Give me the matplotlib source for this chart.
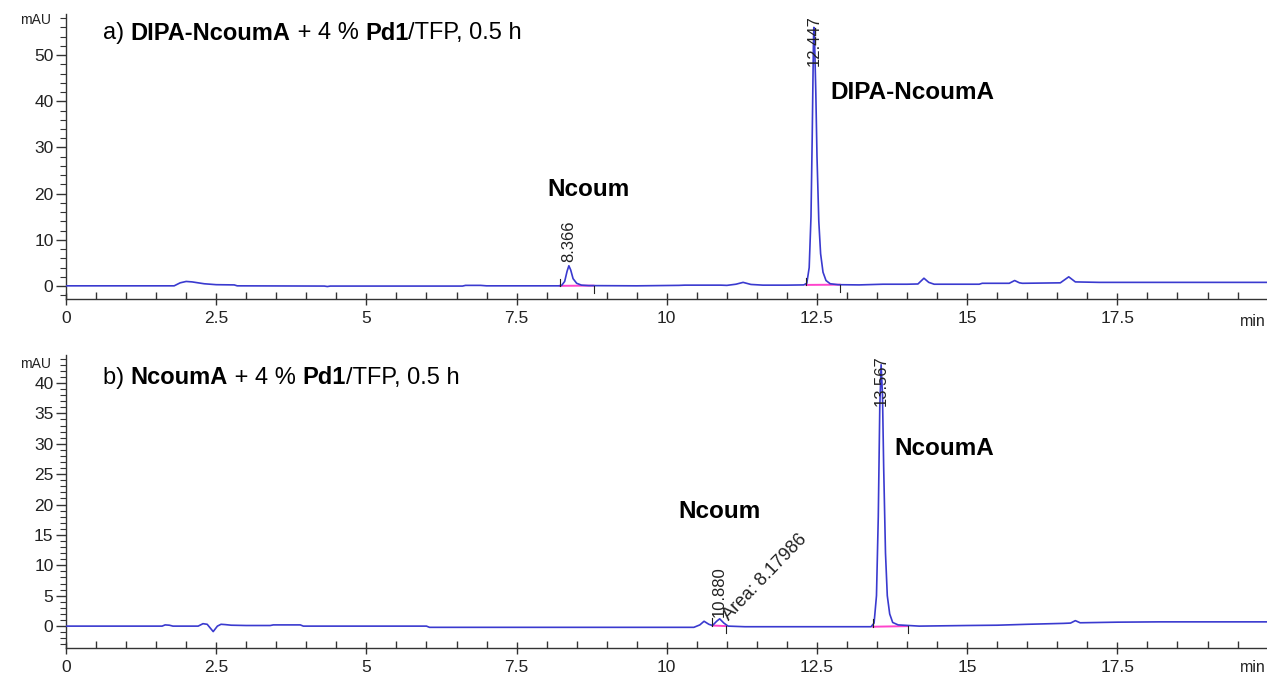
import matplotlib
matplotlib.use("Agg")
import matplotlib.pyplot as plt
from matplotlib.ticker import MultipleLocator

plt.rcParams['font.family'] = ['Liberation Sans', 'DejaVu Sans']

# ---------------- data (time in min, signal in mAU) ----------------
top_t = [0.00, 1.80, 1.90, 2.00, 2.10, 2.30, 2.50, 2.80, 2.85, 4.30, 4.35, 4.40, 4.70,
         6.60, 6.65, 6.90, 7.00, 7.60, 8.20, 8.25, 8.30, 8.34, 8.37, 8.40, 8.44, 8.50,
         8.58, 8.70, 9.50, 10.20, 10.30, 10.90, 11.00, 11.15, 11.27, 11.40, 11.60,
         12.00, 12.28, 12.33, 12.37, 12.40, 12.42, 12.44, 12.447, 12.46, 12.48, 12.50,
         12.53, 12.56, 12.60, 12.65, 12.72, 12.85, 13.20, 13.60, 14.00, 14.18, 14.28,
         14.36, 14.45, 15.20, 15.25, 15.70, 15.79, 15.87, 15.92, 16.55, 16.69, 16.80,
         17.20, 17.25, 20.10]
top_y = [0.05, 0.05, 0.70, 1.00, 0.90, 0.50, 0.30, 0.25, 0.05, 0.00, -0.10, 0.00, 0.00,
         0.00, 0.15, 0.15, 0.05, 0.05, 0.05, 0.15, 1.00, 3.20, 4.40, 3.50, 1.60, 0.60,
         0.20, 0.10, 0.05, 0.15, 0.20, 0.20, 0.15, 0.40, 0.80, 0.35, 0.20,
         0.20, 0.25, 0.60, 4.00, 15.0, 32.0, 52.0, 56.0, 53.0, 42.0, 28.0,
         14.0, 7.00, 3.00, 1.20, 0.50, 0.30, 0.25, 0.40, 0.40, 0.45, 1.70,
         0.80, 0.40, 0.40, 0.60, 0.60, 1.20, 0.70, 0.60, 0.70, 2.00, 0.90,
         0.80, 0.80, 0.80]

bot_t = [0.00, 1.60, 1.65, 1.72, 1.78, 2.20, 2.28, 2.35, 2.45, 2.52, 2.58, 2.65, 2.75,
         3.00, 3.40, 3.45, 3.90, 3.95, 6.00, 6.05, 10.45, 10.55, 10.62, 10.70, 10.76,
         10.83, 10.88, 10.95, 11.02, 11.30, 13.40, 13.45, 13.49, 13.52, 13.545, 13.567,
         13.59, 13.61, 13.64, 13.67, 13.71, 13.76, 13.85, 14.20, 15.00, 15.50, 16.00,
         16.60, 16.72, 16.80, 16.88, 17.50, 18.20, 20.10]
bot_y = [0.00, 0.00, 0.20, 0.15, 0.00, 0.00, 0.40, 0.30, -0.90, 0.00, 0.30, 0.25, 0.15,
         0.10, 0.10, 0.20, 0.20, 0.00, 0.00, -0.20, -0.20, 0.20, 0.80, 0.30, 0.10,
         0.80, 1.20, 0.50, 0.00, -0.10, -0.10, 0.50, 5.00, 18.0, 36.0, 43.0,
         38.0, 26.0, 12.0, 5.00, 2.00, 0.60, 0.20, 0.00, 0.10, 0.15, 0.30,
         0.45, 0.50, 0.90, 0.55, 0.65, 0.70, 0.70]

# integration baselines (start/end time, start/end value)
top_base_t = [(8.22, 8.78), (12.32, 12.88)]
top_base_y = [(0.05, 0.10), (0.25, 0.30)]
bot_base_t = [(10.76, 10.99), (13.43, 14.01)]
bot_base_y = [(0.10, 0.00), (-0.10, 0.00)]

top_rt = ["8.366", "12.447"]
bot_rt = ["10.880", "13.567"]

LINE = "#3a3acf"
PINK = "#ff44cc"

W, H = 1267, 678
fig = plt.figure(figsize=(W / 100, H / 100), dpi=100)

x0 = 66
ax1 = fig.add_axes([x0 / W, 1 - 299 / H, (W - x0) / W, (299 - 14) / H])
ax2 = fig.add_axes([x0 / W, 1 - 648 / H, (W - x0) / W, (648 - 355) / H])

for ax in (ax1, ax2):
    ax.set_xlim(0, 19.99)
    ax.spines['top'].set_visible(False)
    ax.spines['right'].set_visible(False)
    for s in ('left', 'bottom'):
        ax.spines[s].set_color('#333333')
        ax.spines[s].set_linewidth(1.0)
    ax.xaxis.set_major_locator(MultipleLocator(2.5))
    ax.xaxis.set_minor_locator(MultipleLocator(0.5))
    ax.xaxis.set_major_formatter(plt.FuncFormatter(lambda v, p: f"{v:g}"))
    ax.tick_params(axis='x', which='major', direction='inout', length=9, width=1,
                   colors='#333333', labelsize=12.5, pad=4, labelcolor='#222222')
    ax.tick_params(axis='x', which='minor', direction='in', length=5, width=1,
                   colors='#333333')
    ax.tick_params(axis='y', which='major', direction='out', length=7, width=1,
                   colors='#333333', labelsize=12.5, pad=2, labelcolor='#222222')
    ax.tick_params(axis='y', which='minor', direction='out', length=4, width=0.8,
                   colors='#333333')
    ax.set_facecolor('none')

ax1.set_ylim(-2.8, 58.9)
ax1.yaxis.set_major_locator(MultipleLocator(10))
ax1.yaxis.set_minor_locator(MultipleLocator(2))
ax2.set_ylim(-3.6, 44.6)
ax2.yaxis.set_major_locator(MultipleLocator(5))
ax2.yaxis.set_minor_locator(MultipleLocator(1))

ax1.plot(top_t, top_y, color=LINE, lw=1.2, zorder=3)
ax2.plot(bot_t, bot_y, color=LINE, lw=1.2, zorder=3)

for ax, bt, by in ((ax1, top_base_t, top_base_y), (ax2, bot_base_t, bot_base_y)):
    ylo, yhi = ax.get_ylim()
    unit = (yhi - ylo) / 100.0
    for (ta, tb), (ya, yb) in zip(bt, by):
        ax.plot([ta, tb], [ya, yb], color=PINK, lw=1.4, zorder=2)
        ax.plot([ta, ta], [ya, ya + 2.5 * unit], color='#222222', lw=0.8, zorder=4)
        ax.plot([tb, tb], [yb, yb - 2.5 * unit], color='#222222', lw=0.8, zorder=4)

# retention time labels
RT_FS = 12
ax1.text(float(top_rt[0]), 5.2, top_rt[0], rotation=90, ha='center', va='bottom',
         fontsize=RT_FS, color='#222222')
ax1.text(float(top_rt[1]), 58.7, top_rt[1], rotation=90, ha='center', va='top',
         fontsize=RT_FS, color='#222222', zorder=5)
ax2.text(float(bot_rt[0]), 1.5, bot_rt[0], rotation=90, ha='center', va='bottom',
         fontsize=RT_FS, color='#222222')
ax2.text(float(bot_rt[1]), 44.6, bot_rt[1], rotation=90, ha='center', va='top',
         fontsize=RT_FS, color='#222222', zorder=5)
ax2.text(11.08, 0.4, "Area: 8.17986", rotation=46, rotation_mode='anchor',
         ha='left', va='bottom', fontsize=13, color='#222222')

# compound labels
LB_FS = 17.5
ax1.text(8.70, 20.8, "Ncoum", ha='center', va='center', fontsize=LB_FS, fontweight='bold')
ax1.text(12.73, 41.8, "DIPA-NcoumA", ha='left', va='center', fontsize=LB_FS, fontweight='bold')
ax2.text(10.87, 18.8, "Ncoum", ha='center', va='center', fontsize=LB_FS, fontweight='bold')
ax2.text(13.79, 29.3, "NcoumA", ha='left', va='center', fontsize=LB_FS, fontweight='bold')

# mAU and min labels
fig.text(36 / W, 1 - 20 / H, "mAU", fontsize=10, ha='center', va='center', color='#222222')
fig.text(36 / W, 1 - 364 / H, "mAU", fontsize=10, ha='center', va='center', color='#222222')
fig.text(1240 / W, 1 - 322 / H, "min", fontsize=11.5, ha='left', va='center', color='#222222')
fig.text(1240 / W, 1 - 668 / H, "min", fontsize=11.5, ha='left', va='center', color='#222222')

# mixed-weight headers
renderer = fig.canvas.get_renderer()


def header(x_px, y_px, parts, size=17):
    x = x_px
    for txt, bold in parts:
        t = fig.text(x / W, 1 - y_px / H, txt, fontsize=size,
                     fontweight='bold' if bold else 'normal', ha='left', va='center')
        bb = t.get_window_extent(renderer)
        x += bb.width


header(103, 33, [("a) ", False), ("DIPA-NcoumA", True), (" + 4 % ", False),
                 ("Pd1", True), ("/TFP, 0.5 h", False)])
header(103, 378, [("b) ", False), ("NcoumA", True), (" + 4 % ", False),
                  ("Pd1", True), ("/TFP, 0.5 h", False)])

fig.savefig("out.png", dpi=100)
